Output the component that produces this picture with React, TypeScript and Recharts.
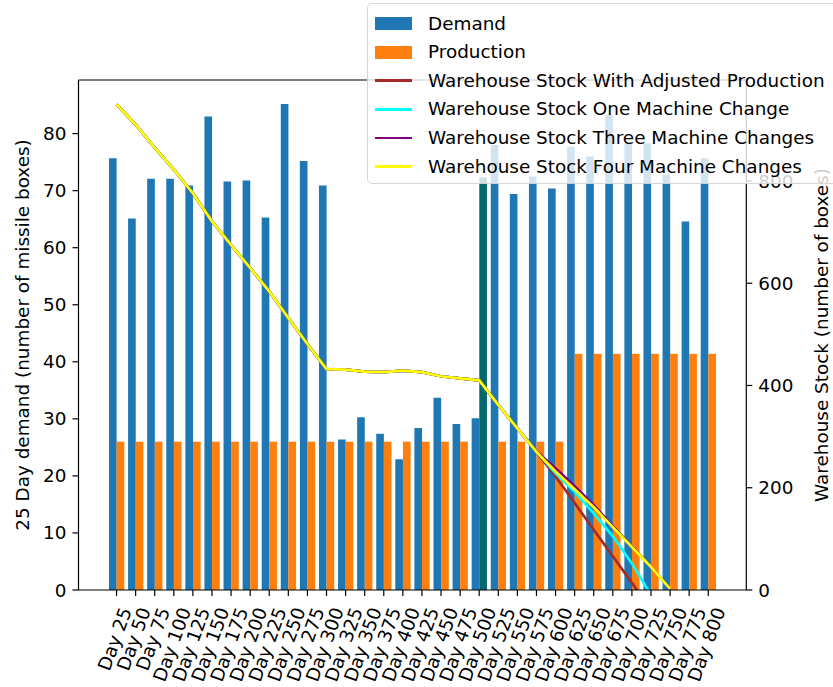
import React from 'react';
import { ComposedChart, Bar, Line, XAxis, YAxis, Legend, CartesianGrid } from 'recharts';

const FONT = '"DejaVu Sans", sans-serif';
const FS = 18.4;

// categories
const days = [
  'Day 25', 'Day 50', 'Day 75', 'Day 100', 'Day 125', 'Day 150', 'Day 175', 'Day 200',
  'Day 225', 'Day 250', 'Day 275', 'Day 300', 'Day 325', 'Day 350', 'Day 375', 'Day 400',
  'Day 425', 'Day 450', 'Day 475', 'Day 500', 'Day 525', 'Day 550', 'Day 575', 'Day 600',
  'Day 625', 'Day 650', 'Day 675', 'Day 700', 'Day 725', 'Day 750', 'Day 775', 'Day 800',
];

// 25 day demand (left axis)
const demand = [
  75.7, 65.1, 72.1, 72.1, 70.9, 83.0, 71.6, 71.8,
  65.3, 85.2, 75.2, 70.9, 26.4, 30.3, 27.4, 22.9,
  28.4, 33.7, 29.1, 30.1, 78.0, 69.4, 72.5, 70.4,
  77.7, 76.0, 83.3, 78.3, 78.3, 72.8, 64.6, 75.7,
];

const production = [
  26, 26, 26, 26, 26, 26, 26, 26,
  26, 26, 26, 26, 26, 26, 26, 26,
  26, 26, 26, 26, 26, 26, 26, 26,
  41.4, 41.4, 41.4, 41.4, 41.4, 41.4, 41.4, 41.4,
];

// highlighted bar at the switch-over day
const highlight = [
  null, null, null, null, null, null, null, null,
  null, null, null, null, null, null, null, null,
  null, null, null, 72.3, null, null, null, null,
  null, null, null, null, null, null, null, null,
];

// warehouse stock (right axis)
const stockAdjusted = [
  950, 910, 865, 822, 776, 721, 675, 630,
  584, 532, 481, 432, 431, 427, 426, 429,
  426, 418, 414, 410, 362, 316, 270, 222,
  170, 118, 66, 14, -38, null, null, null,
];
const stockOneChange = [
  950, 910, 865, 822, 776, 721, 675, 630,
  584, 532, 481, 432, 431, 427, 426, 429,
  426, 418, 414, 410, 362, 316, 271, 228,
  192, 150, 105, 52, -10, null, null, null,
];
const stockThreeChanges = [
  950, 910, 865, 822, 776, 721, 675, 630,
  584, 532, 481, 432, 431, 427, 426, 429,
  426, 418, 414, 410, 362, 316, 271, 238,
  203, 166, 125, 85, 45, 2, null, null,
];
const stockFourChanges = [
  950, 910, 865, 822, 776, 721, 675, 630,
  584, 532, 481, 432, 431, 427, 426, 429,
  426, 418, 414, 410, 362, 316, 270, 232,
  197, 162, 123, 84, 45, 2, null, null,
];

const leftTicks = [0, 10, 20, 30, 40, 50, 60, 70, 80];
const rightTicks = [0, 200, 400, 600, 800];

const COLORS = {
  demand: '#1f77b4',
  production: '#ff7f0e',
  highlight: '#03686b',
  adjusted: '#a52a2a',
  one: '#00ffff',
  three: '#800080',
  four: '#ffff00',
};

const lines = [
  { key: 'adjusted', name: 'Warehouse Stock With Adjusted Production', color: COLORS.adjusted },
  { key: 'one', name: 'Warehouse Stock One Machine Change', color: COLORS.one },
  { key: 'three', name: 'Warehouse Stock Three Machine Changes', color: COLORS.three },
  { key: 'four', name: 'Warehouse Stock Four Machine Changes', color: COLORS.four },
];

const data = days.map((day, i) => ({
  day,
  demand: demand[i],
  production: production[i],
  highlight: highlight[i],
  adjusted: stockAdjusted[i],
  one: stockOneChange[i],
  three: stockThreeChanges[i],
  four: stockFourChanges[i],
}));

// rough DejaVu Sans advance widths, used to centre the rotated labels like matplotlib
const charEm: Record<string, number> = { D: 0.77, a: 0.613, y: 0.592, ' ': 0.318 };
const textEm = (s: string) => s.split('').reduce((w, c) => w + (charEm[c] ?? 0.636), 0);

const DayTick = (props: any) => {
  const { x, y, payload } = props;
  const label = String(payload.value);
  const len = textEm(label) * FS;
  const ex = x + 0.171 * len + 4.2;
  const ey = y + 8.5;
  return (
    <text
      transform={`translate(${ex},${ey}) rotate(-70)`}
      textAnchor="end"
      fontSize={FS}
      fontFamily={FONT}
      fill="#000"
    >
      {label}
    </text>
  );
};

const AxisTitle = (props: any) => {
  const { viewBox, title, xPos } = props;
  const cy = viewBox && viewBox.height ? viewBox.y + viewBox.height / 2 : 335;
  return (
    <text
      x={xPos}
      y={cy}
      transform={`rotate(-90 ${xPos} ${cy})`}
      textAnchor="middle"
      dominantBaseline="central"
      fontSize={FS}
      fontFamily={FONT}
      fill="#000"
    >
      {title}
    </text>
  );
};

// production bar; the highlighted day is drawn taller in teal
const ProductionShape = (props: any) => {
  const { x, y, width, height, payload, fill } = props;
  if (payload.highlight != null && payload.production) {
    const h = (payload.highlight * height) / payload.production;
    return <rect x={x} y={y + height - h} width={width} height={h} fill={COLORS.highlight} />;
  }
  return <rect x={x} y={y} width={width} height={height} fill={fill} />;
};

const legendItems = [
  { name: 'Demand', color: COLORS.demand, patch: true },
  { name: 'Production', color: COLORS.production, patch: true },
  ...lines.map((l) => ({ name: l.name, color: l.color, patch: false })),
];

const renderLegend = () => (
  <div
    style={{
      position: 'relative',
      width: 480,
      height: 181,
      boxSizing: 'border-box',
      background: 'rgba(255,255,255,0.8)',
      border: '1px solid rgba(204,204,204,0.8)',
      borderRadius: 5,
      fontFamily: FONT,
    }}
  >
    {legendItems.map((item, i) => {
      const cy = 19.5 + i * 28.6;
      return (
        <React.Fragment key={item.name}>
          {item.patch ? (
            <div style={{ position: 'absolute', left: 7, top: cy - 6.5, width: 37, height: 13, background: item.color }} />
          ) : (
            <div style={{ position: 'absolute', left: 7, top: cy - 1.35, width: 37, height: 2.7, background: item.color }} />
          )}
          <div
            style={{
              position: 'absolute',
              left: 60,
              top: cy - 11,
              height: 22,
              lineHeight: '22px',
              fontSize: FS,
              color: '#000',
              whiteSpace: 'nowrap',
            }}
          >
            {item.name}
          </div>
        </React.Fragment>
      );
    })}
  </div>
);

export default function App() {
  return (
    <div
      style={{
        position: 'absolute',
        left: 0,
        top: 0,
        width: 833,
        height: 687,
        overflow: 'hidden',
        background: '#fff',
        fontFamily: FONT,
      }}
    >
      <ComposedChart
        width={833}
        height={687}
        data={data}
        margin={{ top: 80, right: 0, bottom: 0, left: 0 }}
        barGap={0}
      >
        <CartesianGrid
          xAxisId="x"
          yAxisId="left"
          vertical={false}
          horizontalCoordinatesGenerator={(p: any) => [p.offset.top]}
          stroke="#000"
          strokeWidth={1.2}
        />
        <XAxis
          xAxisId="x"
          dataKey="day"
          interval={0}
          height={97}
          padding={{ left: 28.5, right: 28.5 }}
          tickSize={6}
          tickMargin={6}
          tick={<DayTick />}
          axisLine={{ stroke: '#000', strokeWidth: 1.2 }}
          tickLine={{ stroke: '#000', strokeWidth: 1.2 }}
        />
        <YAxis
          yAxisId="left"
          width={78.5}
          domain={[0, 89.4]}
          ticks={leftTicks}
          allowDataOverflow
          tickSize={6}
          tickMargin={6}
          tick={{ fill: '#000', fontSize: FS, fontFamily: FONT }}
          axisLine={{ stroke: '#000', strokeWidth: 1.2 }}
          tickLine={{ stroke: '#000', strokeWidth: 1.2 }}
          label={<AxisTitle title="25 Day demand (number of missile boxes)" xPos={22} />}
        />
        <YAxis
          yAxisId="right"
          orientation="right"
          width={86.7}
          domain={[0, 997.5]}
          ticks={rightTicks}
          allowDataOverflow
          tickSize={6}
          tickMargin={6}
          tick={{ fill: '#000', fontSize: FS, fontFamily: FONT }}
          axisLine={{ stroke: '#000', strokeWidth: 1.2 }}
          tickLine={{ stroke: '#000', strokeWidth: 1.2 }}
          label={<AxisTitle title="Warehouse Stock (number of boxes)" xPos={821} />}
        />
        <Bar
          xAxisId="x"
          yAxisId="left"
          dataKey="demand"
          name="Demand"
          fill={COLORS.demand}
          barSize={7.64}
          isAnimationActive={false}
        />
        <Bar
          xAxisId="x"
          yAxisId="left"
          dataKey="production"
          name="Production"
          fill={COLORS.production}
          barSize={7.64}
          shape={<ProductionShape />}
          isAnimationActive={false}
        />
        {lines.map((l) => (
          <Line
            key={l.key}
            xAxisId="x"
            yAxisId="right"
            type="linear"
            dataKey={l.key}
            name={l.name}
            stroke={l.color}
            strokeWidth={2.7}
            dot={false}
            activeDot={false}
            isAnimationActive={false}
          />
        ))}
        <Legend
          layout="vertical"
          align="center"
          verticalAlign="middle"
          content={renderLegend}
          wrapperStyle={{ left: 367, top: 3, width: 480, height: 181 }}
        />
      </ComposedChart>
    </div>
  );
}
